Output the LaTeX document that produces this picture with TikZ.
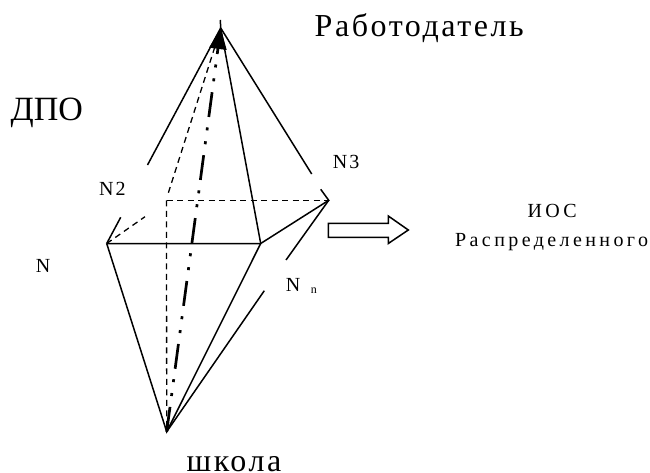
\documentclass[tikz,border=0pt]{standalone}
\usepackage{fontspec}
\setmainfont{Liberation Serif}
\newfontfamily\bigwide[LetterSpace=8]{Liberation Serif}
\newfontfamily\smallwide[LetterSpace=17]{Liberation Serif}
\newfontfamily\markwide[LetterSpace=10]{Liberation Serif}
\usetikzlibrary{arrows.meta}
\tikzset{
    edge/.style={line width=1.5pt},
    hidden/.style={line width=1.3pt, dash pattern=on 6pt off 4.5pt},
    axis/.style={line width=2.7pt, dash pattern=on 25pt off 11pt on 3pt off 11pt on 3pt off 10.5pt},
    biglabel/.style={inner sep=0pt, anchor=base west, font=\fontsize{32}{32}\selectfont\bigwide},
    smalllabel/.style={inner sep=0pt, anchor=base west, font=\fontsize{20}{20}\selectfont\smallwide},
    marklabel/.style={inner sep=0pt, anchor=base west, font=\fontsize{20}{20}\selectfont\markwide}
}
\begin{document}
\begin{tikzpicture}[x=1pt, y=-1pt]
    \useasboundingbox (0, 0) rectangle (650, 473);

    % Vertices
    \coordinate (top) at (220.7, 28);
    \coordinate (peak) at (220.3, 20);
    \coordinate (school) at (166.7, 431.7);
    \coordinate (n1) at (106.7, 243.5);
    \coordinate (n2) at (166.5, 200.3);
    \coordinate (n3) at (328.7, 200.3);
    \coordinate (n4) at (260.7, 243.5);

    % Free ends of the broken lines
    \coordinate (leftend) at (147.5, 165);
    \coordinate (rightend) at (311.7, 174);
    \coordinate (hiddenend) at (168.3, 193);
    \coordinate (hiddentop) at (218, 37);
    \coordinate (n1up) at (120.7, 217.3);
    \coordinate (n1back) at (145, 216.7);
    \coordinate (n3up) at (320.7, 189.3);
    \coordinate (nnupper) at (286, 260);
    \coordinate (nnlower) at (264.3, 290.7);

    % Upper pyramid
    \draw[edge] (peak) -- (top);
    \draw[edge] (top) -- (leftend);
    \draw[edge] (top) -- (rightend);
    \draw[edge] (top) -- (n4);
    \draw[hidden] (hiddentop) -- (hiddenend);

    % Base
    \draw[edge] (n1) -- (n4) -- (n3) -- (n3up);
    \draw[edge] (n1up) -- (n1);
    \draw[hidden] (n1) -- (n1back);
    \draw[hidden] (n2) -- (n3);

    % Lower pyramid
    \draw[edge] (n1) -- (school) -- (n4);
    \draw[edge] (school) -- (nnlower);
    \draw[edge] (nnupper) -- (n3);
    \draw[hidden] (n2) -- (school);

    % Axis with the arrow at the top
    \draw[axis, -{Triangle[length=21pt, width=17pt]}] (school) -- (top);

    % Hollow arrow
    \draw[line width=1.5pt, line join=miter, fill=white] (328.3, 223.3) -- (388.3, 223.3) -- (388.3, 216)
        -- (408.3, 230) -- (388.3, 243.5) -- (388.3, 237.3) -- (328.3, 237.3) -- cycle;

    % Labels
    \node[biglabel] (employer) at (314.5, 36.7) {Работодатель};
    \node[biglabel, font=\fontsize{34}{34}\selectfont] (dpo) at (10.5, 121) {ДПО};
    \node[biglabel] (schoollabel) at (186.5, 471.5) {школа};
    \node[marklabel] (n2label) at (99, 196) {N2};
    \node[marklabel] (n3label) at (332.7, 168.3) {N3};
    \node[marklabel] (n1label) at (35.7, 272.3) {N};
    \node[marklabel] (nnlabel) at (285.7, 291) {N};
    \node[inner sep=0pt, anchor=base west, font=\fontsize{12}{12}\selectfont] (nnindex) at (310.7, 293.3) {n};
    \node[smalllabel] (ios) at (527.3, 217.7) {ИОС};
    \node[smalllabel] (distributed) at (455, 246.7) {Распределенного};
\end{tikzpicture}
\end{document}
